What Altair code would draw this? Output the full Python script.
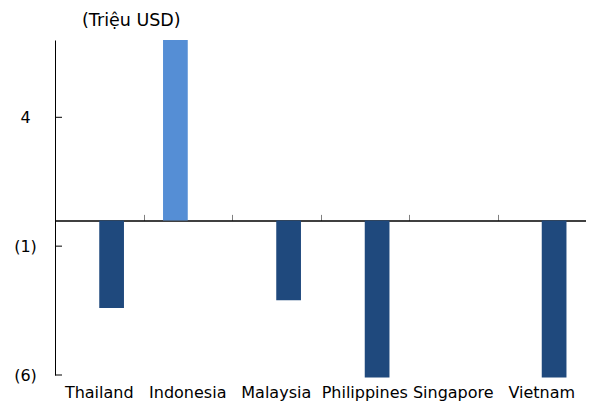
import altair as alt
import pandas as pd

categories = ["Thailand", "Indonesia", "Malaysia", "Philippines", "Singapore", "Vietnam"]
series_pos = [0, 7.0, 0, 0, 0, 0]
series_neg = [-3.4, 0, -3.1, -6.1, 0, -6.1]
y_ticks = [4, -1, -6]

rows = []
for c, p, n in zip(categories, series_pos, series_neg):
    rows.append({"country": c, "series": "A", "value": p})
    rows.append({"country": c, "series": "B", "value": n})
df = pd.DataFrame(rows)
df_ticks = pd.DataFrame({"value": y_ticks})

FONT = "DejaVu Sans"
W, H = 531, 335

xscale = alt.Scale(domain=categories, paddingInner=0, paddingOuter=0)
yscale = alt.Scale(domain=[-6, 7], nice=False, zero=False)

y_axis = alt.Axis(values=y_ticks, ticks=False, grid=False, domainColor="black",
                  domainWidth=1, labelFont=FONT, labelFontSize=16, labelColor="black",
                  labelPadding=30, labelAlign="center",
                  labelExpr="datum.value < 0 ? '(' + format(-datum.value, 'd') + ')' : datum.label")

bars = alt.Chart(df).mark_bar().encode(
    x=alt.X("country:N", scale=xscale, sort=categories, title=None,
            axis=alt.Axis(orient="bottom", domain=False, ticks=False, labelAngle=0,
                          labelFont=FONT, labelFontSize=16, labelColor="black",
                          labelPadding=9, labelOverlap=False, labelLimit=0)),
    xOffset=alt.XOffset("series:N", sort=["A", "B"],
                        scale=alt.Scale(paddingInner=0, paddingOuter=0.79)),
    y=alt.Y("value:Q", scale=yscale, title=None, axis=y_axis),
    color=alt.Color("series:N", scale=alt.Scale(domain=["A", "B"], range=["#558ED5", "#1F497D"]), legend=None),
)

top_axis = alt.Chart(df).mark_bar(opacity=0).encode(
    x=alt.X("country:N", scale=xscale, sort=categories, title=None,
            axis=alt.Axis(orient="top", labels=False, tickBand="extent", tickSize=6,
                          tickColor="#808080", domainColor="black", domainWidth=1.5,
                          offset=-H * 7 / 13)),
    y=alt.Y("value:Q", scale=yscale, title=None, axis=y_axis),
)

yticks = alt.Chart(df_ticks).mark_rule(color="black", strokeWidth=1).encode(
    y=alt.Y("value:Q", scale=yscale, title=None, axis=y_axis),
    x=alt.value(0),
    x2=alt.value(7),
)

chart = alt.layer(bars, top_axis, yticks).properties(
    width=W, height=H,
    title=alt.TitleParams("(Triệu USD)", anchor="start", frame="group", dx=27,
                          font=FONT, fontSize=17.5, fontWeight="normal", color="black", offset=11),
    autosize=alt.AutoSizeParams(type="none"),
    padding={"left": 47, "top": 32, "right": 0, "bottom": 27},
).configure(background="white").configure_view(stroke=None)

chart.save("out.html", embed_options={"renderer": "svg", "actions": False})
